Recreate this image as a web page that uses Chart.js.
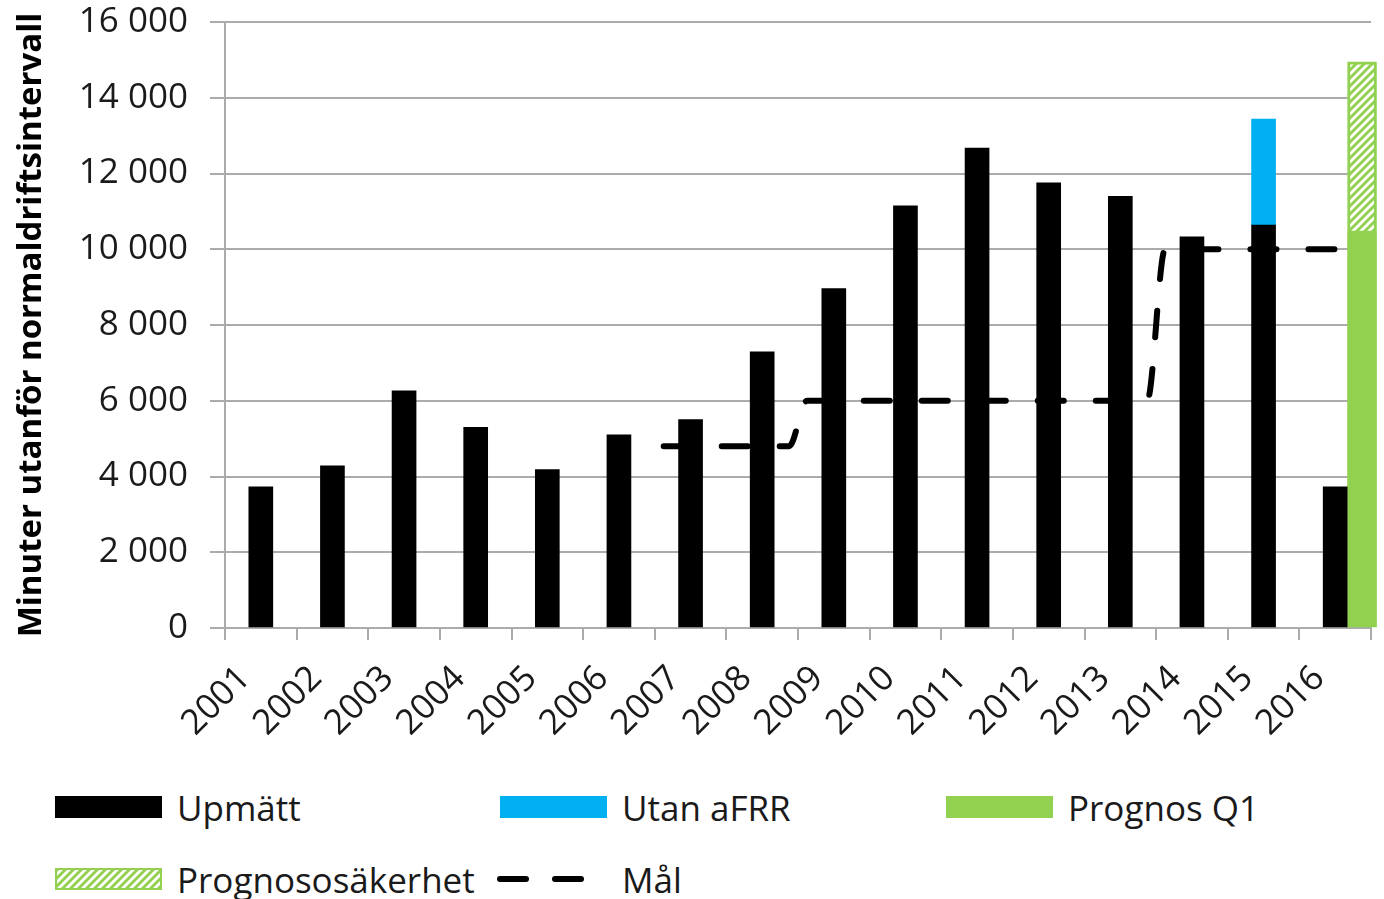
<!DOCTYPE html>
<html lang="sv">
<head>
<meta charset="utf-8">
<title>Minuter utanför normaldriftsintervall</title>
<script src="https://cdn.jsdelivr.net/npm/chart.js@4.4.1/dist/chart.umd.min.js"></script>
<style>
  html, body { margin: 0; padding: 0; background: #fff; }
  #wrap { position: relative; width: 1384px; height: 899px; overflow: hidden; }
  #chart-box { position: absolute; left: 0; top: 0; width: 1384px; height: 770px; }
  .legend { position: absolute; left: 0; top: 0; width: 1384px; font-family: "Open Sans", sans-serif; font-size: 35px; color: #1a1a1a; }
  .item { position: absolute; height: 40px; display: flex; align-items: center; white-space: nowrap; }
  .key { width: 107px; height: 22px; margin-right: 15px; flex: none; position: relative; }
  .dash { position: absolute; top: 8px; height: 6px; width: 32px; background: #000; border-radius: 3px; }
</style>
</head>
<body>
<div id="wrap">
  <div id="chart-box"><canvas id="c"></canvas></div>
  <div class="legend" id="legend"></div>
</div>
<script>
/* Minuter utanför normaldriftsintervall per år, med mål och prognos */

const years = ["2001", "2002", "2003", "2004", "2005", "2006", "2007", "2008",
  "2009", "2010", "2011", "2012", "2013", "2014", "2015", "2016"];

// uppmätt (2016 = Q1)
const upmatt = [3730, 4285, 6265, 5300, 4185, 5100, 5500, 7290,
  8960, 11145, 12670, 11755, 11400, 10330, 10640, 3730];
// tillägg utan aFRR (bara 2015)
const utanAfrr = [null, null, null, null, null, null, null, null,
  null, null, null, null, null, null, 2800, null];

// prognos för helåret 2016 utifrån Q1, ritas vid årets slut
const prognosKvartal = ["2016 Q4"];
const prognosQ1 = [10420];
const prognosOsakerhet = [4530];

// mål per kvartal
const malKvartal = [
  null, null, null, null, // 2001
  null, null, null, null, // 2002
  null, null, null, null, // 2003
  null, null, null, null, // 2004
  null, null, null, null, // 2005
  null, null, null, null, // 2006
  4800, 4800, 4800, 4800, // 2007
  4800, 4800, 4800, 4800, // 2008
  6000, 6000, 6000, 6000, // 2009
  6000, 6000, 6000, 6000, // 2010
  6000, 6000, 6000, 6000, // 2011
  6000, 6000, 6000, 6000, // 2012
  6000, 6000, 6000, 6000, // 2013
  10000, 10000, 10000, 10000, // 2014
  10000, 10000, 10000, 10000, // 2015
  10000, 10000, 10000, 10000, // 2016
];
const quarters = years.flatMap((y) => ["Q1", "Q2", "Q3", "Q4"].map((q) => `${y} ${q}`));

const yTicks = { min: 0, max: 16000, step: 2000 };

const BLACK = "#000000";
const BLUE = "#00b0f0";
const GREEN = "#92d050";
const GRID = "#ababab";
const TEXT = "#1a1a1a";
const FONT = "'Open Sans', sans-serif";

const CANVAS_H = 770;
const PLOT_LEFT = 225;
const PLOT_BOTTOM = 628;

function hatchTile() {
  const c = document.createElement("canvas");
  c.width = 8;
  c.height = 8;
  const g = c.getContext("2d");
  g.fillStyle = GREEN;
  g.fillRect(0, 0, 8, 8);
  g.strokeStyle = "#ffffff";
  g.lineWidth = 2.8;
  g.beginPath();
  g.moveTo(-1, 9); g.lineTo(9, -1);
  g.moveTo(-3, 3); g.lineTo(3, -3);
  g.moveTo(5, 11); g.lineTo(11, 5);
  g.stroke();
  return c;
}

const tile = hatchTile();
const canvas = document.getElementById("c");
const ctx = canvas.getContext("2d");
const hatch = ctx.createPattern(tile, "repeat");

function fmt(v) {
  return String(v).replace(/\B(?=(\d{3})+(?!\d))/g, " ");
}

const atQuarter = (vals) => vals.map((v, i) => ({ x: prognosKvartal[i], y: v }));

// staplarna grupperas inte: varje stapel centreras på sitt eget x-värde
const barStyle = (w) => ({ grouped: false, barThickness: w, maxBarThickness: w, order: 1 });

const chart = new Chart(canvas, {
  type: "bar",
  data: {
    labels: years,
    datasets: [
      {
        type: "line",
        label: "Mål",
        data: malKvartal,
        xAxisID: "x2",
        yAxisID: "y",
        stack: "mal",
        order: 0,
        borderColor: BLACK,
        backgroundColor: BLACK,
        borderWidth: 6,
        borderDash: [26, 32],
        borderCapStyle: "round",
        pointRadius: 0,
        cubicInterpolationMode: "monotone",
        fill: false,
      },
      {
        label: "Upmätt",
        data: upmatt,
        stack: "a",
        backgroundColor: BLACK,
        ...barStyle(24),
      },
      {
        label: "Utan aFRR",
        data: utanAfrr,
        stack: "a",
        backgroundColor: BLUE,
        ...barStyle(24),
      },
      {
        label: "Prognos Q1",
        data: atQuarter(prognosQ1),
        xAxisID: "x2",
        stack: "b",
        backgroundColor: GREEN,
        ...barStyle(29),
      },
      {
        label: "Prognososäkerhet",
        data: atQuarter(prognosOsakerhet),
        xAxisID: "x2",
        stack: "b",
        backgroundColor: hatch,
        borderColor: GREEN,
        borderWidth: 3,
        borderSkipped: false,
        ...barStyle(29),
      },
    ],
  },
  options: {
    responsive: true,
    maintainAspectRatio: false,
    animation: false,
    layout: { padding: { top: 22, right: 13, left: 0, bottom: 0 } },
    datasets: { bar: { clip: false } },
    plugins: {
      legend: { display: false },
      tooltip: { enabled: false },
    },
    scales: {
      x: {
        stacked: true,
        offset: true,
        grid: {
          offset: true,
          drawOnChartArea: false,
          drawTicks: true,
          tickLength: 12,
          color: GRID,
          lineWidth: 2,
        },
        border: { color: GRID, width: 2 },
        ticks: {
          color: TEXT,
          font: { family: FONT, size: 35 },
          minRotation: 45,
          maxRotation: 45,
          autoSkip: false,
          padding: 18,
          labelOffset: -16,
        },
        afterFit(scale) {
          scale.height = CANVAS_H - PLOT_BOTTOM;
        },
      },
      x2: {
        type: "category",
        labels: quarters,
        display: false,
        offset: true,
        stacked: true,
      },
      y: {
        stacked: true,
        min: yTicks.min,
        max: yTicks.max,
        grid: {
          color: GRID,
          lineWidth: 2,
          tickLength: 15,
        },
        border: { color: GRID, width: 2 },
        ticks: {
          stepSize: yTicks.step,
          color: TEXT,
          padding: 22,
          font: { family: FONT, size: 35 },
          callback: (v) => fmt(v),
        },
        title: {
          display: true,
          text: "Minuter utanför normaldriftsintervall",
          color: BLACK,
          font: { family: FONT, size: 33, weight: "bold" },
          padding: { top: 12, bottom: 0 },
        },
        afterFit(scale) {
          scale.width = PLOT_LEFT;
          scale.paddingTop = 0;
          scale.paddingBottom = 0;
        },
      },
    },
  },
});

/* legend i tre kolumner som i originalet */
const legendItems = [
  { label: "Upmätt", kind: "box", color: BLACK, col: 0, row: 0 },
  { label: "Utan aFRR", kind: "box", color: BLUE, col: 1, row: 0 },
  { label: "Prognos Q1", kind: "box", color: GREEN, col: 2, row: 0 },
  { label: "Prognososäkerhet", kind: "hatch", col: 0, row: 1 },
  { label: "Mål", kind: "dash", col: 1, row: 1 },
];
const colX = [55, 500, 946];
const rowY = [787, 859];

const legend = document.getElementById("legend");
for (const it of legendItems) {
  const el = document.createElement("div");
  el.className = "item";
  el.style.left = colX[it.col] + "px";
  el.style.top = rowY[it.row] + "px";
  const key = document.createElement("span");
  key.className = "key";
  if (it.kind === "box") {
    key.style.background = it.color;
  } else if (it.kind === "hatch") {
    key.style.backgroundImage = `url(${tile.toDataURL()})`;
    key.style.boxShadow = `inset 0 0 0 2px ${GREEN}`;
  } else {
    key.innerHTML = '<span class="dash" style="left:-3px"></span><span class="dash" style="left:52px"></span>';
  }
  el.appendChild(key);
  const txt = document.createElement("span");
  txt.textContent = it.label;
  el.appendChild(txt);
  legend.appendChild(el);
}
</script>
</body>
</html>
